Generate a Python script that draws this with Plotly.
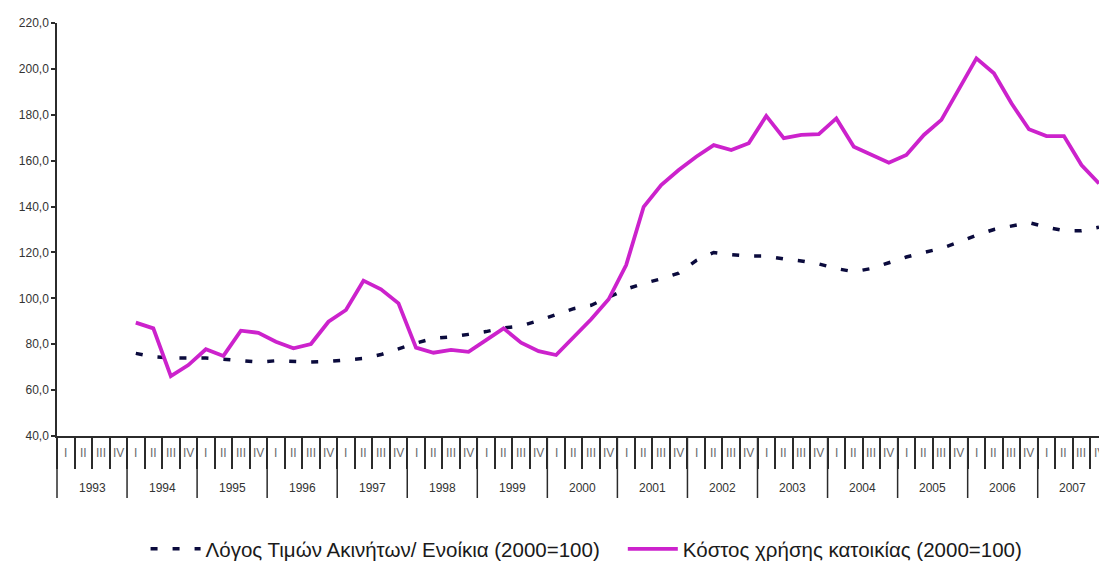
import plotly.graph_objects as go

# Axis categories: every quarter from 1993 to 2007
years = [str(y) for y in range(1993, 2008)]
quarters = ["I", "II", "III", "IV"]
categories = [f"{y} {q}" for y in years for q in quarters]

# Series start in 1994 Q1
series_x = categories[4:]

price_rent_ratio = [
    76.0, 74.5, 74.0, 74.0,      # 1994
    74.0, 73.5, 72.7, 72.2,      # 1995
    72.8, 72.4, 72.2, 72.5,      # 1996
    73.2, 73.8, 75.5, 78.0,      # 1997
    80.5, 82.6, 83.2, 84.3,      # 1998
    85.5, 87.1, 88.0, 90.3,      # 1999
    93.0, 95.5, 97.0, 100.5,     # 2000
    104.0, 106.5, 108.5, 111.0,  # 2001
    116.5, 120.0, 119.0, 118.4,  # 2002
    118.4, 117.2, 116.3, 115.0,  # 2003
    113.0, 111.6, 113.0, 115.5,  # 2004
    118.0, 120.0, 121.8, 124.5,  # 2005
    127.5, 130.0, 131.5, 133.0,  # 2006
    131.0, 129.5, 129.5, 131.0,  # 2007
]

user_cost = [
    89.4, 86.9, 66.1, 70.9,      # 1994
    77.8, 74.9, 85.9, 85.0,      # 1995
    81.1, 78.2, 80.1, 89.8,      # 1996
    94.9, 107.7, 103.9, 97.8,    # 1997
    78.5, 76.3, 77.5, 76.7,      # 1998
    81.8, 86.9, 80.7, 77.0,      # 1999
    75.3, 83.3, 90.9, 99.6,      # 2000
    114.5, 139.9, 149.4, 155.9,  # 2001
    161.7, 166.8, 164.6, 167.6,  # 2002
    179.5, 169.8, 171.2, 171.6,  # 2003
    178.4, 166.1, 162.5, 159.1,  # 2004
    162.5, 171.2, 177.8, 190.8,  # 2005
    204.6, 198.1, 185.0, 173.7,  # 2006
    170.7, 170.7, 158.1, 150.1,  # 2007
]

ratio_name = "Λόγος Τιμών Ακινήτων/ Ενοίκια (2000=100)"
cost_name = "Κόστος χρήσης κατοικίας (2000=100)"

FONT = "Arial, Liberation Sans, sans-serif"
AXIS_COLOR = "#2b2b2b"

fig = go.Figure()
fig.add_trace(go.Scatter(
    x=series_x, y=price_rent_ratio, name=ratio_name, mode="lines",
    line=dict(color="#0b0b3d", width=3.5, dash="7px,15px"),
    cliponaxis=False, legend="legend",
))
fig.add_trace(go.Scatter(
    x=series_x, y=user_cost, name=cost_name, mode="lines",
    line=dict(color="#cc22cc", width=3.8),
    cliponaxis=False, legend="legend2",
))

# Pixel heights below the x axis, converted to paper units
plot_h = 562 - 23 - 126
year_depth = -62 / plot_h
quarter_label_y = -17 / plot_h
year_label_y = -52 / plot_h
legend_y = -113 / plot_h

shapes = [dict(type="line", xref="paper", yref="paper", x0=0, x1=0, y0=0, y1=year_depth,
               line=dict(color=AXIS_COLOR, width=1.5))]
annotations = []
for yi, yr in enumerate(years):
    if yi > 0:
        b = yi * 4 - 0.5
        shapes.append(dict(type="line", xref="x", yref="paper", x0=b, x1=b, y0=0, y1=year_depth,
                           line=dict(color=AXIS_COLOR, width=1.5)))
    annotations.append(dict(x=yi * 4 + 1.5, y=year_label_y, xref="x", yref="paper",
                            text=yr, showarrow=False, yanchor="middle",
                            font=dict(family=FONT, size=12, color="#333333")))
    for qi, q in enumerate(quarters):
        annotations.append(dict(x=yi * 4 + qi, y=quarter_label_y, xref="x", yref="paper",
                                text=q, showarrow=False, yanchor="middle",
                                font=dict(family=FONT, size=12, color="#6a6a6a")))

legend_style = dict(orientation="h", y=legend_y, xanchor="left", yanchor="middle",
                    font=dict(family=FONT, size=20.5, color="#1a1a1a"),
                    itemwidth=50, bgcolor="rgba(0,0,0,0)")

fig.update_layout(
    width=1099, height=562,
    margin=dict(l=57, r=0, t=23, b=126, autoexpand=False),
    paper_bgcolor="white", plot_bgcolor="white",
    separators=",.",
    showlegend=True,
    legend=dict(x=0.085, **legend_style),
    legend2=dict(x=0.543, **legend_style),
    shapes=shapes,
    annotations=annotations,
    xaxis=dict(
        type="category", categoryorder="array", categoryarray=categories,
        range=[-0.5, 59.0],
        showgrid=False, zeroline=False, showticklabels=False,
        showline=True, linecolor=AXIS_COLOR, linewidth=1.5,
        ticks="outside", tickson="boundaries", ticklen=31, tickwidth=1.5, tickcolor=AXIS_COLOR,
    ),
    yaxis=dict(
        range=[40, 220], dtick=20, tick0=40, tickformat=".1f",
        showgrid=False, zeroline=False,
        showline=True, linecolor=AXIS_COLOR, linewidth=1.5,
        ticks="outside", ticklen=4, tickwidth=1.5, tickcolor=AXIS_COLOR,
        tickfont=dict(family=FONT, size=12, color="#333333"),
    ),
)

fig.write_html("out.html")
